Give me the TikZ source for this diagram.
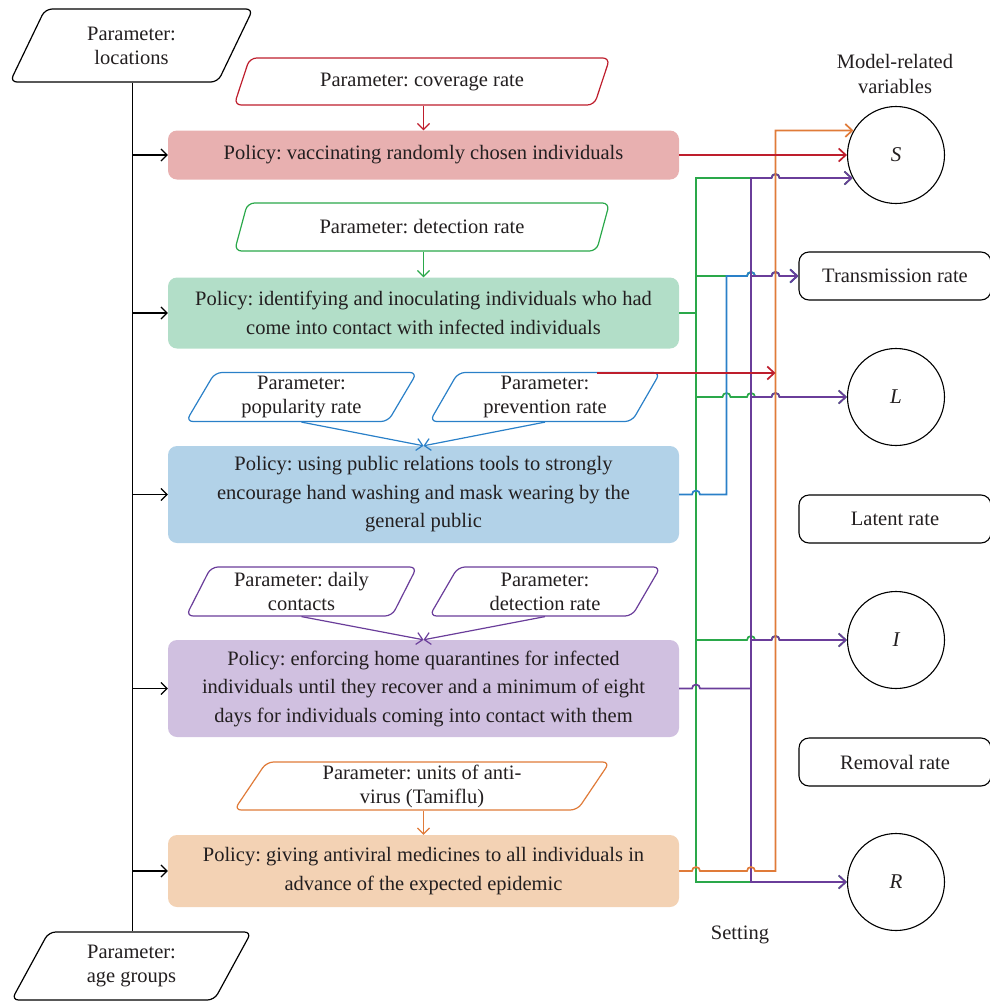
\documentclass[tikz,border=0pt]{standalone}
\usepackage{fontspec}
\setmainfont{Liberation Serif}
\usetikzlibrary{shapes.geometric,arrows.meta,calc}
\frenchspacing
\definecolor{lnR}{HTML}{BE1E2D}
\definecolor{lnG}{HTML}{2AA84A}
\definecolor{lnB}{HTML}{2A80C8}
\definecolor{lnP}{HTML}{6A3D9A}
\definecolor{lnO}{HTML}{E07B39}
\definecolor{fR}{HTML}{E8B0B0}
\definecolor{fG}{HTML}{B2DEC8}
\definecolor{fB}{HTML}{B2D2E8}
\definecolor{fP}{HTML}{D0C0E0}
\definecolor{fO}{HTML}{F3D2B4}
\definecolor{ink}{HTML}{231F20}
\newcommand\jumpR[1]{-- ($#1+(-4,0)$) arc[start angle=180,end angle=0,radius=4pt]}
\newcommand\jumpL[1]{-- ($#1+(4,0)$) arc[start angle=0,end angle=180,radius=4pt]}
\begin{document}
\begin{tikzpicture}[x=1pt,y=-1pt,
  txt/.style={font=\fontsize{20.5}{24}\selectfont, text=ink},
  policy/.style={txt, font=\fontsize{20.5}{28.5}\selectfont, rounded corners=9pt, minimum width=511pt, inner sep=0pt, align=center},
  param/.style={txt, trapezium, trapezium left angle=65, trapezium right angle=115, trapezium stretches=true, rounded corners=7pt, draw, line width=1.2pt, fill=white, align=center, inner sep=1pt},
  var/.style={txt, circle, draw=black, line width=1.1pt, minimum size=97pt, inner sep=0pt, font=\fontsize{21}{24}\selectfont\itshape},
  rate/.style={txt, draw=black, rounded corners=10pt, line width=1.1pt, minimum width=192pt, minimum height=48pt, inner sep=0pt},
  conn/.style={line width=1.7pt, -{Straight Barb[length=7pt,width=13pt]}},
  both/.style={line width=1.7pt, {Straight Barb[length=7pt,width=13pt]}-{Straight Barb[length=7pt,width=13pt]}},
  wire/.style={line width=1.7pt},
  feed/.style={line width=1.2pt, -{Straight Barb[length=6pt,width=12pt]}},
]
\useasboundingbox (0,0) rectangle (990,1004);

% left parameters
\node[param, draw=black, minimum width=243pt, minimum height=73pt] (loc) at (131.5,45.5) {Parameter:\\locations};
\node[param, draw=black, minimum width=240pt, minimum height=68pt] (age) at (131.5,966) {Parameter:\\age groups};

% policies
\node[policy, fill=fR, minimum height=49pt] (p1) at (423.5,155) {Policy: vaccinating randomly chosen individuals};
\node[policy, fill=fG, minimum height=71pt] (p2) at (423.5,313) {Policy: identifying and inoculating individuals who had\\come into contact with infected individuals};
\node[policy, fill=fB, minimum height=97pt] (p3) at (423.5,494.5) {Policy: using public relations tools to strongly\\encourage hand washing and mask wearing by the\\general public};
\node[policy, fill=fP, minimum height=97pt] (p4) at (423.5,688.5) {Policy: enforcing home quarantines for infected\\individuals until they recover and a minimum of eight\\days for individuals coming into contact with them};
\node[policy, fill=fO, minimum height=72pt] (p5) at (423.5,871) {Policy: giving antiviral medicines to all individuals in\\advance of the expected epidemic};

% parameters of policies
\node[param, draw=lnR, minimum width=376pt, minimum height=47pt] (c1) at (422,81.5) {Parameter: coverage rate};
\node[param, draw=lnG, minimum width=376pt, minimum height=48pt] (c2) at (422,227) {Parameter: detection rate};
\node[param, draw=lnB, minimum width=231pt, minimum height=49pt] (c3a) at (301.5,397) {Parameter:\\popularity rate};
\node[param, draw=lnB, minimum width=231pt, minimum height=49pt] (c3b) at (545,397) {Parameter:\\prevention rate};
\node[param, draw=lnP, minimum width=231pt, minimum height=49pt] (c4a) at (301.5,591.5) {Parameter: daily\\contacts};
\node[param, draw=lnP, minimum width=231pt, minimum height=49pt] (c4b) at (545,591.5) {Parameter:\\detection rate};
\node[param, draw=lnO, minimum width=376pt, minimum height=48pt] (c5) at (422,786) {Parameter: units of anti-\\virus (Tamiflu)};

% right side
\node[txt, align=center, font=\fontsize{20.5}{25}\selectfont] (mv) at (895,74) {Model-related\\variables};
\node[var] (S) at (896,155) {S};
\node[rate] (tr) at (895,276) {Transmission rate};
\node[var] (L) at (896,397) {L};
\node[rate] (lr) at (895,519) {Latent rate};
\node[var] (I) at (896,640) {I};
\node[rate] (rr) at (895,762) {Removal rate};
\node[var] (R) at (896,882) {R};
\node[txt] (set) at (740,935) {Setting};

% bus positions
\coordinate (bus) at (132.5,0);
\coordinate (gx) at (696,0);
\coordinate (bx) at (726.5,0);
\coordinate (px) at (751,0);
\coordinate (ox) at (775.5,0);
\coordinate (rs) at (597,373);

% black bus
\draw[line width=1.8pt] (bus |- loc.south) -- (bus |- age.north);
\foreach \pp in {p1,p2,p3,p4,p5} \draw[feed, draw=black] (bus |- \pp.west) -- (\pp.west);

% parameter feeds
\draw[feed, lnR] (c1.south -| p1.north) -- (p1.north);
\draw[feed, lnG] (c2.south -| p2.north) -- (p2.north);
\draw[feed, lnB] (c3a.south) -- (p3.north);
\draw[feed, lnB] (c3b.south) -- (p3.north);
\draw[feed, lnP] (c4a.south) -- (p4.north);
\draw[feed, lnP] (c4b.south) -- (p4.north);
\draw[feed, lnO] (c5.south -| p5.north) -- (p5.north);

% green
\draw[line width=1.8pt, lnG] (p2.east) -- ([xshift=0.9pt]gx |- p2.east);
\draw[both, lnG] (S.208) \jumpL{(ox |- S.208)} -- (gx |- S.208) -- (gx |- R.west) -- (R.west);
\draw[conn, lnG] (gx |- tr.west) \jumpR{(px |- tr.west)} \jumpR{(ox |- tr.west)} -- (tr.west);
\draw[conn, lnG] (gx |- L.west) \jumpR{(bx |- L.west)} \jumpR{(px |- L.west)} \jumpR{(ox |- L.west)} -- (L.west);
\draw[conn, lnG] (gx |- I.west) \jumpR{(px |- I.west)} \jumpR{(ox |- I.west)} -- (I.west);

% blue
\draw[conn, lnB] (p3.east) \jumpR{(gx |- p3.east)} -- (bx |- p3.east) -- (bx |- tr.west) \jumpR{(px |- tr.west)} \jumpR{(ox |- tr.west)} -- (tr.west);

% purple
\draw[wire, lnP] (p4.east) \jumpR{(gx |- p4.east)} -- (px |- p4.east);
\draw[both, lnP] (S.208) \jumpL{(ox |- S.208)} -- (px |- S.208) -- (px |- R.west) -- (R.west);
\draw[conn, lnP] (px |- tr.west) \jumpR{(ox |- tr.west)} -- (tr.west);
\draw[conn, lnP] (px |- L.west) \jumpR{(ox |- L.west)} -- (L.west);
\draw[conn, lnP] (px |- I.west) \jumpR{(ox |- I.west)} -- (I.west);

% orange
\draw[conn, lnO] (p5.east) \jumpR{(gx |- p5.east)} \jumpR{(px |- p5.east)} -- (ox |- p5.east) -- (ox |- S.150) -- (S.150);

% red
\draw[conn, lnR] (p1.east) -- (S.west);
\draw[conn, lnR] (rs) -- (ox |- rs);
\end{tikzpicture}
\end{document}
